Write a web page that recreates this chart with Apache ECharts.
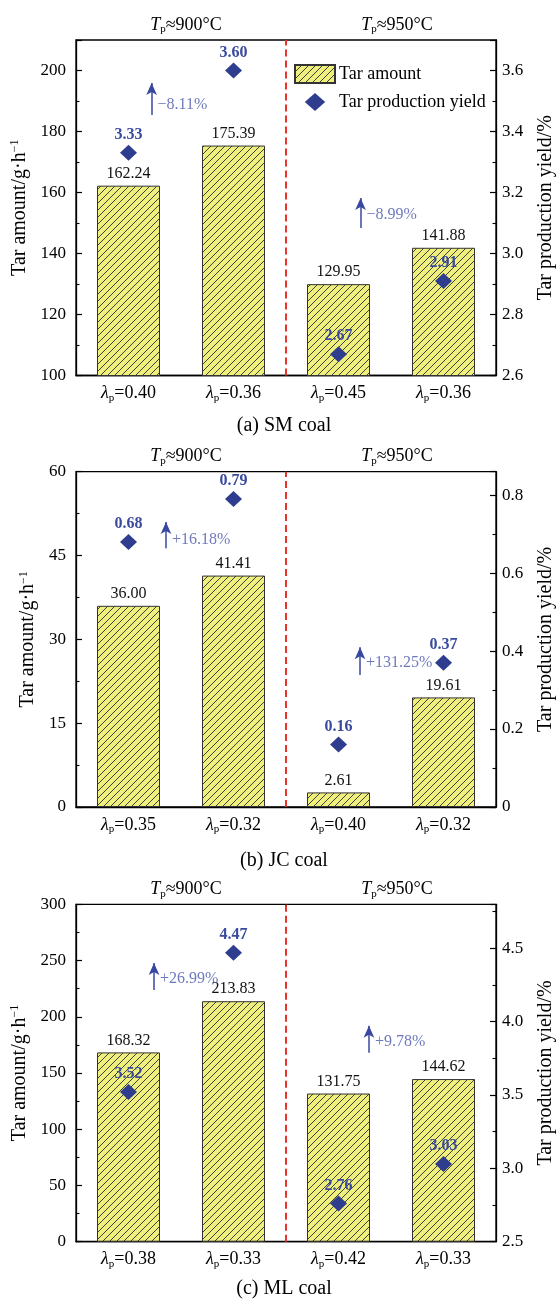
<!DOCTYPE html>
<html>
<head>
<meta charset="utf-8">
<script src="https://cdn.jsdelivr.net/npm/echarts@6/dist/echarts.min.js"></script>
<style>
html, body { margin: 0; padding: 0; background: #fff; }
#chart { width: 558px; height: 1300px; }
</style>
</head>
<body>
<div id="chart"></div>
<script>
// λp values for each coal (x categories)
const lambdaSM = ['0.40', '0.36', '0.45', '0.36'];
const lambdaJC = ['0.35', '0.32', '0.40', '0.32'];
const lambdaML = ['0.38', '0.33', '0.42', '0.33'];

// Tar amount, g/h
const tarSM = [162.24, 175.39, 129.95, 141.88];
const tarJC = [36.00, 41.41, 2.61, 19.61];
const tarML = [168.32, 213.83, 131.75, 144.62];

// Tar production yield, %
const yieldSM = [3.33, 3.60, 2.67, 2.91];
const yieldJC = [0.68, 0.79, 0.16, 0.37];
const yieldML = [3.52, 4.47, 2.76, 3.03];

// Relative change of the yield when λp is lowered (900 °C group, 950 °C group)
const changeSM = ['\u22128.11%', '\u22128.99%'];
const changeJC = ['+16.18%', '+131.25%'];
const changeML = ['+26.99%', '+9.78%'];

const pyrolysisTemps = ['900', '950'];
const coalCaptions = ['(a) SM coal', '(b) JC coal', '(c) ML coal'];

const FONT = "'Liberation Serif', 'Times New Roman', serif";
const BLUE = '#2f3d8e';
const BLUE_TEXT = '#3a4a9e';
const BLUE_NOTE = '#4a57aa';

// Layout of the three panels; arrow positions are in (band index, left-axis value)
const layout = [
  { top: 40, height: 335.5, capY: 427,
    left: { min: 100, max: 210, interval: 20, showMax: false },
    right: { min: 2.6, max: 3.7, interval: 0.2 },
    arrows: [ { x: 0.72, y0: 185.4, y1: 195.9, ty: 188.7 },
              { x: 2.71, y0: 148.4, y1: 158.2, ty: 152.6 } ] },
  { top: 471.7, height: 335.3, capY: 862,
    left: { min: 0, max: 60, interval: 15, showMax: true },
    right: { min: 0, max: 0.86, interval: 0.2 },
    arrows: [ { x: 0.857, y0: 46.3, y1: 51.0, ty: 47.9 },
              { x: 2.705, y0: 23.6, y1: 28.6, ty: 25.8 } ] },
  { top: 904.3, height: 337.4, capY: 1290,
    left: { min: 0, max: 300, interval: 50, showMax: true },
    right: { min: 2.5, max: 4.8, interval: 0.5 },
    arrows: [ { x: 0.743, y0: 223.8, y1: 247.8, ty: 233.6 },
              { x: 2.79, y0: 168.1, y1: 192.0, ty: 177.6 } ] }
];

const panels = [
  { lambda: lambdaSM, tar: tarSM, yld: yieldSM, change: changeSM, caption: coalCaptions[0] },
  { lambda: lambdaJC, tar: tarJC, yld: yieldJC, change: changeJC, caption: coalCaptions[1] },
  { lambda: lambdaML, tar: tarML, yld: yieldML, change: changeML, caption: coalCaptions[2] }
];

// Yellow fill with "///" hatching
function hatchCanvas() {
  const s = 7;
  const c = document.createElement('canvas');
  c.width = s; c.height = s;
  const g = c.getContext('2d');
  g.fillStyle = '#eeef7c';
  g.fillRect(0, 0, s, s);
  g.strokeStyle = '#2a2a2a';
  g.lineWidth = 0.9;
  g.beginPath();
  g.moveTo(0, s); g.lineTo(s, 0);
  g.moveTo(-1, 1); g.lineTo(1, -1);
  g.moveTo(s - 1, s + 1); g.lineTo(s + 1, s - 1);
  g.stroke();
  return c;
}
const hatch = { image: hatchCanvas(), repeat: 'repeat' };

const GRID_LEFT = 76, GRID_RIGHT = 62;

const grid = [], xAxis = [], yAxis = [], series = [], title = [];

const tickStyle = { show: true, inside: true, length: 6, lineStyle: { color: '#000', width: 1.2 } };
const minorStyle = { show: true, splitNumber: 2, length: 3.5, lineStyle: { color: '#000', width: 1.1 } };
const axisLineStyle = { show: true, lineStyle: { color: '#000', width: 1.3 } };

panels.forEach((p, i) => {
  const L = layout[i];
  grid.push({ left: GRID_LEFT, right: GRID_RIGHT, top: L.top, height: L.height,
              containLabel: false, outerBoundsMode: 'none',
              show: true, borderColor: '#000', borderWidth: 1.3, backgroundColor: 'transparent' });

  // category axis with λp labels
  xAxis.push({
    type: 'category', gridIndex: i, data: p.lambda,
    axisLine: axisLineStyle, axisTick: { show: false },
    axisLabel: {
      interval: 0, margin: 8, color: '#000',
      formatter: v => '{l|\u03bb}{s|p}{n|=' + v + '}',
      rich: {
        l: { fontFamily: FONT, fontStyle: 'italic', fontSize: 18, color: '#000' },
        s: { fontFamily: FONT, fontSize: 11, padding: [9, 0, 0, 0], color: '#000' },
        n: { fontFamily: FONT, fontSize: 18, color: '#000' }
      }
    }
  });
  // hidden continuous axis across the same bands, for divider and notes
  xAxis.push({ type: 'value', gridIndex: i, min: 0, max: 4, show: false });

  yAxis.push({
    type: 'value', gridIndex: i, position: 'left',
    min: L.left.min, max: L.left.max, interval: L.left.interval,
    axisLine: axisLineStyle, axisTick: tickStyle, minorTick: minorStyle,
    splitLine: { show: false },
    axisLabel: { fontFamily: FONT, fontSize: 17, color: '#000', margin: 10,
                 showMaxLabel: L.left.showMax },
    name: '{a|Tar amount/g\u00b7h}{b|\u22121}',
    nameLocation: 'middle', nameGap: 37, nameRotate: 90,
    nameTextStyle: {
      rich: {
        a: { fontFamily: FONT, fontSize: 20, color: '#000' },
        b: { fontFamily: FONT, fontSize: 12, color: '#000', padding: [0, 0, 9, 0] }
      }
    }
  });
  yAxis.push({
    type: 'value', gridIndex: i, position: 'right',
    min: L.right.min, max: L.right.max, interval: L.right.interval,
    axisLine: axisLineStyle, axisTick: tickStyle, minorTick: minorStyle,
    splitLine: { show: false },
    axisLabel: { fontFamily: FONT, fontSize: 17, color: '#000', margin: 6,
                 showMaxLabel: false,
                 formatter: v => (Math.abs(v) < 1e-9 ? '0' : v.toFixed(1)) },
    name: 'Tar production yield/%',
    nameLocation: 'middle', nameGap: 40, nameRotate: 90,
    nameTextStyle: { fontFamily: FONT, fontSize: 20, color: '#000' }
  });

  const xc = i * 2, xv = i * 2 + 1, yl = i * 2, yr = i * 2 + 1;

  series.push({
    name: 'Tar amount', type: 'bar', xAxisIndex: xc, yAxisIndex: yl,
    data: p.tar, barWidth: '60%',
    itemStyle: { color: hatch, borderColor: '#333', borderWidth: 1 },
    label: { show: true, position: 'top', distance: 4, fontFamily: FONT, fontSize: 16,
             color: '#111', formatter: d => d.value.toFixed(2) },
    z: 2
  });
  series.push({
    name: 'Tar production yield', type: 'scatter', xAxisIndex: xc, yAxisIndex: yr,
    data: p.yld, symbol: 'diamond', symbolSize: [17, 16],
    itemStyle: { color: BLUE, opacity: 1 },
    label: { show: true, position: 'top', distance: 2, fontFamily: FONT, fontSize: 16,
             fontWeight: 'bold', color: BLUE_TEXT, formatter: d => d.value.toFixed(2) },
    z: 5
  });
  // dashed divider between the two temperature groups
  series.push({
    type: 'line', xAxisIndex: xv, yAxisIndex: yl, silent: true,
    data: [[2, L.left.min], [2, L.left.max]], symbol: 'none',
    lineStyle: { color: '#e8342c', width: 2, type: [7, 4] }, z: 3
  });
  // change notes with upward arrows
  series.push({
    type: 'scatter', xAxisIndex: xv, yAxisIndex: yl, silent: true,
    data: L.arrows.map((a, k) => [a.x, a.ty, p.change[k]]),
    symbolSize: 0,
    label: { show: true, position: 'right', distance: 6, fontFamily: FONT, fontSize: 16,
             color: BLUE_NOTE, formatter: d => d.value[2] },
    markLine: {
      silent: true, animation: false,
      symbol: ['none', 'arrow'], symbolSize: [8, 12],
      lineStyle: { color: '#3848a0', width: 1.5, type: 'solid' },
      label: { show: false },
      data: L.arrows.map(a => [{ coord: [a.x, a.y0] }, { coord: [a.x, a.y1] }])
    },
    z: 4
  });

  // temperature headers above each group
  const hdr = (t, cx) => ({
    text: '{i|T}{s|p}{n|\u2248' + t + '\u00b0C}',
    left: cx, top: L.top - 25, textAlign: 'center', padding: 0,
    textStyle: { fontWeight: 'normal', rich: {
      i: { fontFamily: FONT, fontStyle: 'italic', fontWeight: 'normal', fontSize: 18, color: '#000' },
      s: { fontFamily: FONT, fontWeight: 'normal', fontSize: 11, padding: [9, 0, 0, 0], color: '#000' },
      n: { fontFamily: FONT, fontWeight: 'normal', fontSize: 18, color: '#000' }
    } }
  });
  title.push(hdr(pyrolysisTemps[0], 186));
  title.push(hdr(pyrolysisTemps[1], 397));
  title.push({
    text: p.caption, left: 284, top: L.capY - 11, textAlign: 'center', padding: 0,
    textStyle: { fontFamily: FONT, fontSize: 20, fontWeight: 'normal', color: '#000' }
  });
});

const chart = echarts.init(document.getElementById('chart'), null, { renderer: 'canvas' });
chart.setOption({
  backgroundColor: '#fff',
  animation: false,
  title: title,
  legend: {
    orient: 'vertical', left: 294, top: 64, padding: 0,
    itemWidth: 40, itemHeight: 18, itemGap: 9, symbolKeepAspect: true,
    textStyle: { fontFamily: FONT, fontSize: 18, color: '#000', padding: [0, 0, 0, -1] },
    data: [ { name: 'Tar amount', icon: 'rect' },
            { name: 'Tar production yield', icon: 'path://M8.5,0L17,7.5L8.5,15L0,7.5Z' } ]
  },
  grid: grid,
  xAxis: xAxis,
  yAxis: yAxis,
  series: series
});
</script>
</body>
</html>
